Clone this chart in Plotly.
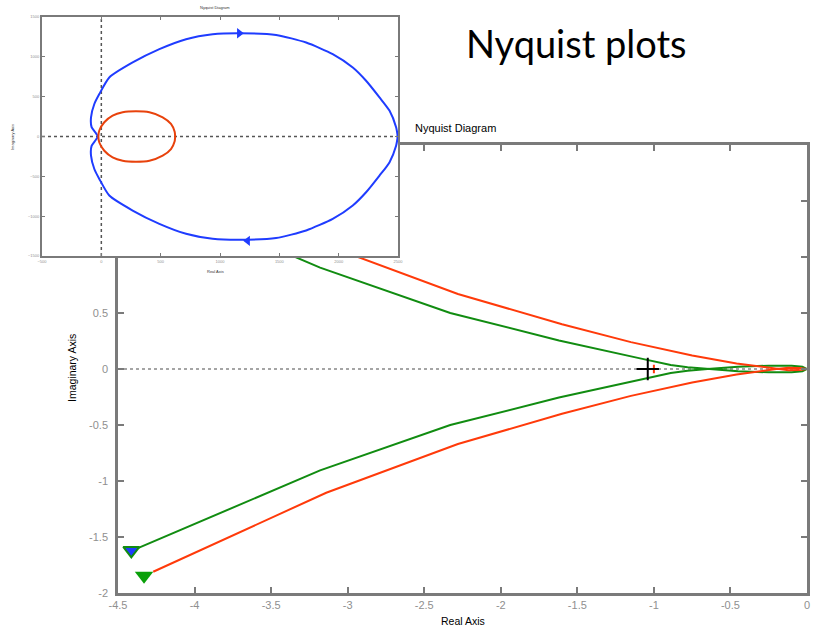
import plotly.graph_objects as go

W, H = 814, 626

# ---------------- Main Nyquist diagram (lower branches; upper = conjugate) ----
green_re = [-4.37, -3.18, -2.33, -1.62, -1.09, -0.89, -0.78, -0.65, -0.45, -0.25, -0.10, -0.03, 0.0]
green_im = [-1.60, -0.905, -0.50, -0.255, -0.095, -0.035, -0.015, 0.0, 0.02, 0.03, 0.03, 0.02, 0.0]
red_re = [-4.27, -3.14, -2.28, -1.60, -1.15, -0.75, -0.46, -0.28, -0.20, -0.12, -0.05, 0.0]
red_im = [-1.81, -1.105, -0.67, -0.40, -0.24, -0.12, -0.05, -0.015, 0.0, 0.012, 0.01, 0.0]

# end-arrow markers and critical point
green_end_re, green_end_im = [-4.413], [-1.62]
red_end_re, red_end_im = [-4.33], [-1.846]
crit_re, crit_im = [-1.04], [0.0]
small_re, small_im = [-1.0], [0.0]

main_xticks = [-4.5, -4, -3.5, -3, -2.5, -2, -1.5, -1, -0.5, 0]
main_xlabels = ["-4.5", "-4", "-3.5", "-3", "-2.5", "-2", "-1.5", "-1", "-0.5", "0"]
main_yticks = [-2, -1.5, -1, -0.5, 0, 0.5, 1, 1.5, 2]
main_ylabels = ["-2", "-1.5", "-1", "-0.5", "0", "0.5", "", "", ""]

# ---------------- Inset Nyquist diagram (upper branches) ----------------------
blue_re = [-31, -82, -87, -59, -17, 67, 264, 489, 714, 938, 1163, 1473, 1726, 1950, 2119, 2231, 2344, 2428, 2484, 2498]
blue_im = [0, 117, 241, 408, 533, 741, 929, 1096, 1221, 1283, 1296, 1275, 1179, 1034, 866, 700, 491, 325, 116, 0]
inred_re = [-25, -17, 25, 95, 180, 292, 405, 517, 587, 618, 622]
inred_im = [0, 75, 179, 262, 304, 316, 304, 241, 158, 60, 0]
arrow_top_re, arrow_top_im = [1163], [1296]
arrow_bot_re, arrow_bot_im = [1233], [-1310]

inset_xticks = [-500, 0, 500, 1000, 1500, 2000, 2500]
inset_yticks = [-1500, -1000, -500, 0, 500, 1000, 1500]

GREEN = "#118c11"
RED = "#ff3a0a"
BLUE = "#1f3cff"
INRED = "#e8420c"
AX = "#7a7a7a"
TICKC = "#8f8f8f"
FONT = "Liberation Sans, Arial, sans-serif"


def full_curve(re, im):
    # upper branch (conjugate) from far end to origin, then lower branch back out
    xs = list(re) + list(reversed(re))
    ys = [-i for i in im] + list(reversed(im))
    return xs, ys


def closed_curve(re, im):
    xs = list(re) + list(reversed(re))
    ys = list(im) + [-i for i in reversed(im)]
    return xs, ys


fig = go.Figure()

# main zero line
fig.add_trace(go.Scatter(x=[-4.5, 0], y=[0, 0], mode="lines",
                         line=dict(color="#888888", width=1.5, dash="dot"),
                         xaxis="x", yaxis="y", hoverinfo="skip"))

gx, gy = full_curve(green_re, green_im)
fig.add_trace(go.Scatter(x=gx, y=gy, mode="lines", line=dict(color=GREEN, width=2),
                         xaxis="x", yaxis="y"))
rx, ry = full_curve(red_re, red_im)
fig.add_trace(go.Scatter(x=rx, y=ry, mode="lines", line=dict(color=RED, width=2),
                         xaxis="x", yaxis="y"))

fig.add_trace(go.Scatter(x=green_end_re, y=green_end_im, mode="markers",
                         marker=dict(symbol="triangle-down", size=14, color=BLUE,
                                     line=dict(color=GREEN, width=2)),
                         xaxis="x", yaxis="y"))
fig.add_trace(go.Scatter(x=red_end_re, y=red_end_im, mode="markers",
                         marker=dict(symbol="triangle-down", size=16, color="#0aa00a",
                                     line=dict(width=0)),
                         xaxis="x", yaxis="y"))
fig.add_trace(go.Scatter(x=small_re, y=small_im, mode="markers",
                         marker=dict(symbol="cross-thin", size=6,
                                     line=dict(color=RED, width=2)),
                         xaxis="x", yaxis="y"))
fig.add_trace(go.Scatter(x=crit_re, y=crit_im, mode="markers",
                         marker=dict(symbol="cross-thin", size=16,
                                     line=dict(color="black", width=2)),
                         xaxis="x", yaxis="y"))

# inset
fig.add_trace(go.Scatter(x=[-500, 2500], y=[0, 0], mode="lines",
                         line=dict(color="#555555", width=1.5, dash="dot"),
                         xaxis="x2", yaxis="y2"))
fig.add_trace(go.Scatter(x=[0, 0], y=[-1500, 1500], mode="lines",
                         line=dict(color="#555555", width=1.5, dash="dot"),
                         xaxis="x2", yaxis="y2"))
bx, by = closed_curve(blue_re, blue_im)
fig.add_trace(go.Scatter(x=bx, y=by, mode="lines", line=dict(color=BLUE, width=2, shape="spline", smoothing=0.6),
                         xaxis="x2", yaxis="y2"))
ix, iy = closed_curve(inred_re, inred_im)
fig.add_trace(go.Scatter(x=ix, y=iy, mode="lines", line=dict(color=INRED, width=2, shape="spline", smoothing=0.6),
                         xaxis="x2", yaxis="y2"))
fig.add_trace(go.Scatter(x=arrow_top_re, y=arrow_top_im, mode="markers",
                         marker=dict(symbol="triangle-right", size=9, color=BLUE),
                         xaxis="x2", yaxis="y2"))
fig.add_trace(go.Scatter(x=arrow_bot_re, y=arrow_bot_im, mode="markers",
                         marker=dict(symbol="triangle-left", size=9, color=BLUE),
                         xaxis="x2", yaxis="y2"))


def px_x(v):
    return v / W


def px_y(v):
    return 1 - v / H


axis_common = dict(showgrid=False, zeroline=False, showline=True, mirror="ticks",
                   linecolor=AX, ticks="inside", tickcolor=AX, automargin=False)

fig.update_layout(
    template="none",
    width=W, height=H, margin=dict(l=0, r=0, t=0, b=0, pad=0),
    paper_bgcolor="white", plot_bgcolor="white", showlegend=False,
    xaxis=dict(domain=[px_x(118), px_x(807)], range=[-4.5, 0], anchor="y",
               tickvals=main_xticks, ticktext=main_xlabels, linewidth=2.5,
               ticklen=6, tickwidth=1.5,
               tickfont=dict(family=FONT, size=11, color=TICKC), **axis_common),
    yaxis=dict(domain=[px_y(593), px_y(145)], range=[-2, 2], anchor="x",
               tickvals=main_yticks, ticktext=main_ylabels, linewidth=2.5,
               ticklen=6, tickwidth=1.5, ticklabelstandoff=5,
               tickfont=dict(family=FONT, size=11, color=TICKC), **axis_common),
    xaxis2=dict(domain=[px_x(42), px_x(398)], range=[-500, 2500], anchor="y2",
                tickvals=inset_xticks, linewidth=2, ticklen=3, tickwidth=1,
                tickfont=dict(family=FONT, size=4, color=TICKC), **axis_common),
    yaxis2=dict(domain=[px_y(256), px_y(17)], range=[-1500, 1500], anchor="x2",
                tickvals=inset_yticks, linewidth=2, ticklen=3, tickwidth=1,
                tickfont=dict(family=FONT, size=4, color=TICKC), **axis_common),
)

annos = [
    dict(text="Nyquist plots", x=px_x(576), y=px_y(43), font=dict(family="Lato", size=38, color="black")),
    dict(text="Nyquist Diagram", x=px_x(455), y=px_y(128), font=dict(family=FONT, size=11, color="black")),
    dict(text="Real Axis", x=px_x(463), y=px_y(621), font=dict(family=FONT, size=10.5, color="black")),
    dict(text="Imaginary Axis", x=px_x(72), y=px_y(368), textangle=-90,
         font=dict(family=FONT, size=10.5, color="black")),
    dict(text="Nyquist Diagram", x=px_x(215), y=px_y(7.5), font=dict(family=FONT, size=4, color="#333333")),
    dict(text="Real Axis", x=px_x(215), y=px_y(271), font=dict(family=FONT, size=4, color="#333333")),
    dict(text="Imaginary Axis", x=px_x(12), y=px_y(137), textangle=-90,
         font=dict(family=FONT, size=4, color="#333333")),
]
for a in annos:
    fig.add_annotation(xref="paper", yref="paper", showarrow=False,
                       xanchor="center", yanchor="middle", **a)

fig.write_html("out.html")
